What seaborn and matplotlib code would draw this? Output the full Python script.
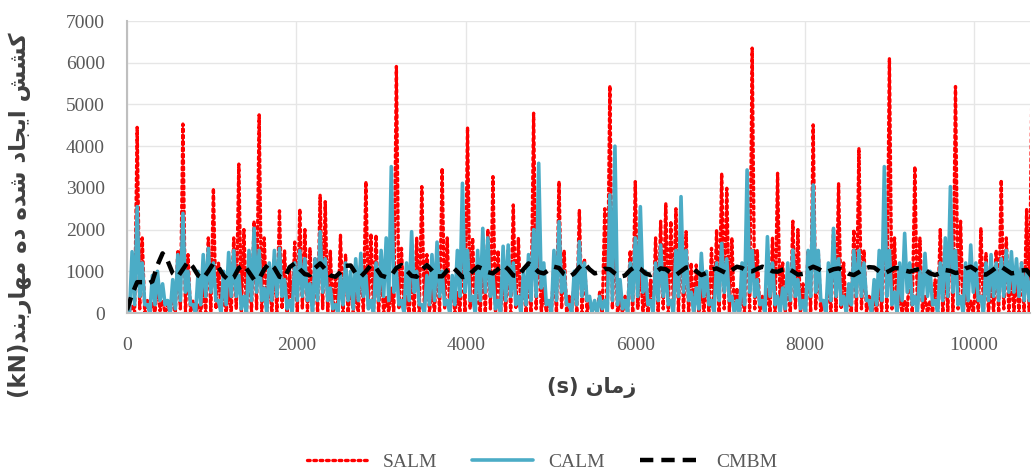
from matplotlib import pyplot as plt
import numpy as np
import pandas
import seaborn as sns

# time grid (s), one bin every 60 s, low value sits half a bin later
step = 60
time_s = list(range(0, 179 * step, step))

# SALM - upper / lower envelope of the signal in each bin (kN)
salm_hi = [350, 200, 4450, 1800, 300, 250, 750, 300, 200, 400,
           1500, 4530, 1400, 300, 200, 600, 1800, 2990, 1200, 500,
           600, 1800, 3570, 2000, 1200, 2200, 4750, 1800, 900, 1300,
           2450, 1500, 1000, 1700, 2490, 2000, 1550, 1300, 2830, 2670,
           1500, 900, 1870, 1400, 800, 500, 1300, 3150, 1900, 1870,
           1000, 400, 600, 5910, 1550, 400, 900, 1800, 3030, 1400,
           600, 1400, 3470, 1800, 700, 500, 1500, 4450, 1800, 700,
           1200, 2000, 3270, 1500, 900, 1500, 2590, 1800, 900, 1000,
           4790, 2000, 600, 300, 1200, 3150, 1500, 400, 800, 2470,
           1300, 300, 200, 500, 2500, 5450, 2000, 300, 400, 1500,
           3150, 1300, 500, 800, 1800, 2200, 2630, 2200, 2500, 2300,
           1950, 1200, 1150, 700, 900, 1550, 2000, 3350, 2990, 1800,
           600, 500, 2500, 6350, 1500, 400, 600, 1800, 3350, 1200,
           800, 2200, 2000, 700, 1500, 4510, 1500, 300, 800, 2000,
           3110, 1200, 500, 2000, 3950, 1500, 400, 300, 800, 2500,
           6110, 1800, 500, 300, 1200, 3510, 1800, 400, 300, 800,
           2000, 1200, 2500, 5430, 2200, 600, 300, 800, 2030, 1430,
           800, 1500, 3190, 1800, 1000, 900, 1200, 2500, 5060]
salm_lo = [0, 0, 100, 0, 0, 0, 50, 0, 0, 0,
           100, 0, 0, 0, 0, 0, 0, 100, 0, 0,
           0, 100, 0, 0, 0, 100, 0, 0, 0, 0,
           100, 0, 0, 0, 100, 0, 0, 0, 100, 0,
           0, 0, 0, 0, 0, 0, 0, 100, 0, 0,
           0, 0, 0, 100, 0, 0, 0, 0, 100, 0,
           0, 0, 100, 0, 0, 0, 0, 100, 0, 0,
           0, 100, 0, 0, 0, 0, 100, 0, 0, 0,
           100, 0, 0, 0, 0, 100, 0, 0, 0, 0,
           0, 0, 0, 0, 0, 100, 0, 0, 0, 0,
           100, 0, 0, 0, 0, 100, 0, 100, 0, 0,
           0, 0, 0, 0, 0, 0, 0, 100, 0, 0,
           0, 0, 0, 100, 0, 0, 0, 0, 100, 0,
           0, 100, 0, 0, 0, 100, 0, 0, 0, 0,
           100, 0, 0, 0, 100, 0, 0, 0, 0, 0,
           100, 0, 0, 0, 0, 100, 0, 0, 0, 0,
           0, 0, 0, 100, 0, 0, 0, 0, 100, 0,
           0, 0, 100, 0, 0, 0, 0, 0, 100]

# CALM - upper / lower envelope (kN)
calm_hi = [200, 1470, 2550, 1200, 200, 900, 1000, 700, 300, 800,
           1400, 2390, 1000, 200, 1000, 1400, 1550, 1200, 300, 1000,
           1450, 1500, 900, 400, 1500, 2030, 1500, 600, 1200, 1500,
           1550, 800, 300, 1200, 1500, 1300, 700, 1300, 1950, 1300,
           600, 200, 900, 1200, 1000, 1300, 1430, 900, 300, 1200,
           1500, 1800, 3510, 1000, 300, 1200, 1950, 1000, 200, 900,
           1400, 1700, 1000, 300, 900, 1500, 3110, 1500, 400, 1500,
           2030, 1800, 900, 300, 1600, 1630, 1200, 400, 1000, 1400,
           2000, 3590, 1200, 300, 1500, 2190, 1000, 200, 1000, 1710,
           1200, 400, 300, 400, 300, 2830, 4000, 800, 300, 1200,
           1800, 2550, 1000, 300, 1200, 1630, 1000, 300, 1500, 2790,
           1500, 500, 600, 1430, 1000, 300, 1200, 1670, 1300, 400,
           300, 1200, 3430, 1500, 800, 300, 1830, 1200, 400, 600,
           1200, 1510, 800, 300, 1500, 3070, 1500, 300, 1200, 2030,
           1300, 400, 700, 1500, 1500, 1200, 300, 800, 1500, 3510,
           1500, 500, 1200, 1910, 1200, 400, 1000, 1430, 1000, 300,
           1200, 1800, 3030, 1500, 400, 1200, 1630, 1200, 400, 1200,
           1400, 1200, 1300, 1500, 1470, 1300, 1200, 1000, 900]
calm_lo = [0, 200, 400, 200, 0, 200, 300, 200, 0, 100,
           300, 500, 200, 0, 200, 400, 500, 300, 0, 200,
           400, 400, 100, 0, 300, 500, 300, 0, 300, 400,
           400, 100, 0, 300, 400, 300, 0, 300, 500, 300,
           100, 0, 200, 300, 100, 300, 400, 100, 0, 300,
           400, 300, 500, 200, 0, 300, 500, 200, 0, 200,
           300, 400, 200, 0, 200, 400, 500, 300, 0, 300,
           500, 400, 100, 0, 300, 400, 200, 0, 200, 300,
           400, 600, 200, 0, 300, 500, 200, 0, 200, 400,
           300, 0, 0, 100, 0, 300, 200, 100, 0, 300,
           400, 500, 200, 0, 300, 400, 200, 0, 400, 500,
           300, 0, 100, 400, 200, 0, 300, 500, 300, 0,
           0, 200, 500, 400, 200, 0, 400, 200, 0, 100,
           300, 400, 100, 0, 400, 500, 300, 0, 300, 400,
           200, 0, 200, 400, 400, 300, 0, 200, 300, 400,
           200, 0, 300, 500, 200, 0, 300, 400, 200, 0,
           300, 400, 500, 200, 0, 300, 500, 300, 0, 300,
           400, 300, 400, 500, 500, 400, 300, 300, 400]

# CMBM (kN)
cmbm = [70, 450, 740, 740, 700, 760, 1150, 1430, 1250, 950,
        870, 1050, 1230, 1100, 900, 830, 1000, 1190, 1100, 900,
        790, 850, 1080, 1150, 980, 800, 820, 1050, 1190, 1080,
        870, 840, 1100, 1190, 1050, 930, 910, 1080, 1190, 1050,
        900, 870, 980, 1130, 1140, 950, 870, 1000, 1150, 1080,
        900, 860, 900, 1080, 1150, 1020, 890, 870, 1030, 1150,
        1020, 880, 880, 1020, 1110, 990, 860, 880, 1000, 1110,
        1060, 980, 950, 1050, 1150, 1050, 900, 880, 1050, 1190,
        1100, 980, 950, 1030, 1110, 1080, 930, 870, 950, 1100,
        1190, 1050, 950, 980, 1060, 1050, 950, 870, 900, 1030,
        1110, 1060, 950, 910, 980, 1070, 1050, 960, 910, 1000,
        1090, 1110, 1000, 910, 960, 1040, 1070, 1010, 950, 1030,
        1110, 1080, 1010, 1000, 1060, 1110, 1070, 1000, 990, 1040,
        1070, 1000, 920, 940, 1050, 1110, 1060, 990, 1000, 1050,
        1070, 1020, 940, 910, 980, 1060, 1100, 1090, 1000, 950,
        1010, 1080, 1070, 1020, 990, 1030, 1060, 1040, 950, 910,
        960, 1030, 1010, 960, 980, 1070, 1110, 1030, 930, 920,
        1000, 1090, 1110, 1030, 950, 970, 1020, 1030, 880]

x_ticks = [0, 2000, 4000, 6000, 8000, 10000]
y_ticks = [0, 1000, 2000, 3000, 4000, 5000, 6000, 7000]
series_names = ["SALM", "CALM", "CMBM"]

# --- simple Persian shaping (matplotlib has no bidi / joining) ---
FORMS = {
    '\u0627': ('\uFE8D', '\uFE8E', None, None),
    '\u0628': ('\uFE8F', '\uFE90', '\uFE91', '\uFE92'),
    '\u062C': ('\uFE9D', '\uFE9E', '\uFE9F', '\uFEA0'),
    '\u062F': ('\uFEA9', '\uFEAA', None, None),
    '\u0631': ('\uFEAD', '\uFEAE', None, None),
    '\u0632': ('\uFEAF', '\uFEB0', None, None),
    '\u0634': ('\uFEB5', '\uFEB6', '\uFEB7', '\uFEB8'),
    '\u0645': ('\uFEE1', '\uFEE2', '\uFEE3', '\uFEE4'),
    '\u0646': ('\uFEE5', '\uFEE6', '\uFEE7', '\uFEE8'),
    '\u0647': ('\uFEE9', '\uFEEA', '\uFEEB', '\uFEEC'),
    '\u06CC': ('\uFBFC', '\uFBFD', '\uFBFE', '\uFBFF'),
    '\u06A9': ('\uFB8E', '\uFB8F', '\uFB90', '\uFB91'),
}

def shape(text):
    text = text.replace('\u0643', '\u06A9').replace('\u064A', '\u06CC')
    out = []
    for i, ch in enumerate(text):
        if ch not in FORMS:
            out.append(ch)
            continue
        prev = text[i - 1] if i > 0 else ''
        nxt = text[i + 1] if i + 1 < len(text) else ''
        join_prev = prev in FORMS and FORMS[prev][2] is not None
        join_next = nxt in FORMS and FORMS[ch][2] is not None
        iso, fin, ini, med = FORMS[ch]
        if join_prev and join_next:
            out.append(med)
        elif join_prev:
            out.append(fin)
        elif join_next:
            out.append(ini)
        else:
            out.append(iso)
    return ''.join(reversed(out))

ylabel_text = "(kN)" + shape("کشش ایجاد شده ده مهاربند")
xlabel_text = "(s) " + shape("زمان")

# zigzag tables: high value at t, low value at t + half step
def zigzag(hi, lo):
    t = np.ravel(np.column_stack([time_s, np.array(time_s) + step / 2]))
    v = np.ravel(np.column_stack([hi, lo]))
    return pandas.DataFrame({"t": t, "v": v})

df_salm = zigzag(salm_hi, salm_lo)
df_calm = zigzag(calm_hi, calm_lo)
df_cmbm = pandas.DataFrame({"t": time_s, "v": cmbm})

# Plot
sns.set_style("white")
plt.rcParams['font.family'] = ['Liberation Serif', 'DejaVu Sans']
fig = plt.figure(figsize=(10.35, 4.75), dpi=100)
ax = fig.add_axes([0.1227, 0.341, 0.8725, 0.6147])

sns.lineplot(data=df_salm, x="t", y="v", ax=ax, sort=False, estimator=None,
             color="#ff0000", linewidth=2.4, linestyle=(0, (0.8, 1.1)),
             dash_capstyle="round", label=series_names[0])
sns.lineplot(data=df_calm, x="t", y="v", ax=ax, sort=False, estimator=None,
             color="#4bacc6", linewidth=2.6, label=series_names[1])
sns.lineplot(data=df_cmbm, x="t", y="v", ax=ax, sort=False, estimator=None,
             color="black", linewidth=3.2, linestyle=(0, (3.0, 1.8)),
             label=series_names[2])

ax.set_xlim(0, 10660)
ax.set_ylim(0, 7000)
ax.set_xticks(x_ticks)
ax.set_yticks(y_ticks)
ax.grid(True, color="#e6e6e6", linewidth=1)
ax.set_axisbelow(True)
for side in ["top", "right"]:
    ax.spines[side].set_visible(False)
ax.spines["left"].set_color("#bfbfbf")
ax.spines["left"].set_linewidth(1.5)
ax.spines["bottom"].set_color("#bfbfbf")
ax.spines["bottom"].set_linewidth(1.5)
ax.tick_params(axis="both", length=0, labelsize=14, colors="#595959")
ax.tick_params(axis="x", pad=17)
ax.tick_params(axis="y", pad=16)
ax.set_xlabel("")
ax.set_ylabel("")

fig.text(20 / 1035, 1 - 215 / 475, ylabel_text, rotation=90, ha="center", va="center",
         fontsize=16.5, fontweight="bold", color="#404040", family=["DejaVu Sans"])
fig.text(592 / 1035, 1 - 387 / 475, xlabel_text, ha="center", va="center",
         fontsize=15, fontweight="bold", color="#404040", family=["DejaVu Sans"])

handles, labels = ax.get_legend_handles_labels()
ax.get_legend().remove()
leg = fig.legend(handles, labels, loc="center", bbox_to_anchor=(542 / 1035, 1 - 462 / 475),
                 ncol=3, frameon=False, fontsize=14, handlelength=3.1,
                 handletextpad=0.8, columnspacing=1.8)
for txt in leg.get_texts():
    txt.set_color("#595959")

plt.savefig("out.png", dpi=100)
